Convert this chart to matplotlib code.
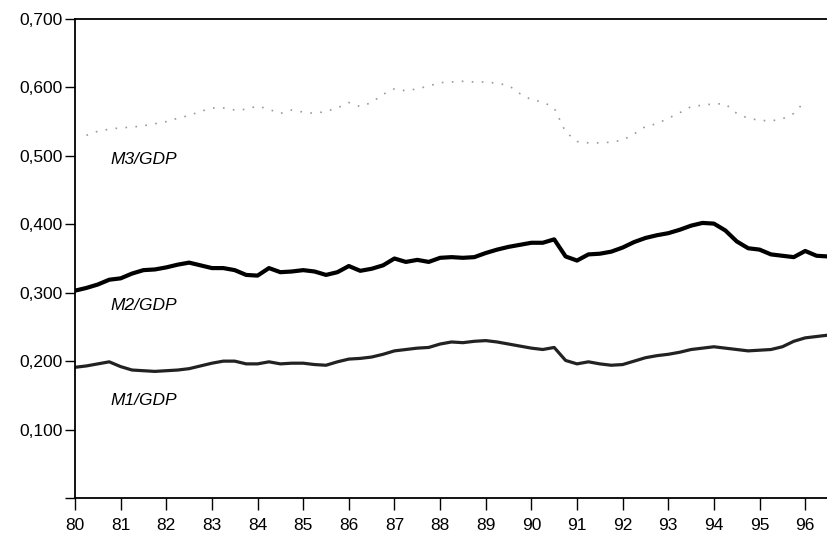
import matplotlib.pyplot as plt
import numpy as np

plt.rcParams['font.family'] = ['Liberation Sans', 'DejaVu Sans']

# quarterly observations, 1980Q1 .. 1996Q3
m2_gdp = [0.303, 0.307, 0.312, 0.319, 0.321, 0.328, 0.333, 0.334, 0.337, 0.341,
          0.344, 0.340, 0.336, 0.336, 0.333, 0.326, 0.325, 0.336, 0.330, 0.331,
          0.333, 0.331, 0.326, 0.330, 0.339, 0.332, 0.335, 0.340, 0.350, 0.345,
          0.348, 0.345, 0.351, 0.352, 0.351, 0.352, 0.358, 0.363, 0.367, 0.370,
          0.373, 0.373, 0.378, 0.353, 0.347, 0.356, 0.357, 0.360, 0.366, 0.374,
          0.380, 0.384, 0.387, 0.392, 0.398, 0.402, 0.401, 0.391, 0.375, 0.365,
          0.363, 0.356, 0.354, 0.352, 0.361, 0.354, 0.353]
m1_gdp = [0.191, 0.193, 0.196, 0.199, 0.192, 0.187, 0.186, 0.185, 0.186, 0.187,
          0.189, 0.193, 0.197, 0.200, 0.200, 0.196, 0.196, 0.199, 0.196, 0.197,
          0.197, 0.195, 0.194, 0.199, 0.203, 0.204, 0.206, 0.210, 0.215, 0.217,
          0.219, 0.220, 0.225, 0.228, 0.227, 0.229, 0.230, 0.228, 0.225, 0.222,
          0.219, 0.217, 0.220, 0.201, 0.196, 0.199, 0.196, 0.194, 0.195, 0.200,
          0.205, 0.208, 0.210, 0.213, 0.217, 0.219, 0.221, 0.219, 0.217, 0.215,
          0.216, 0.217, 0.221, 0.229, 0.234, 0.236, 0.238]
# M3 series starts one quarter later and ends at 1996Q1
m3_gdp = [0.530, 0.536, 0.539, 0.541, 0.542, 0.544, 0.547, 0.550, 0.555, 0.559,
          0.565, 0.570, 0.570, 0.567, 0.568, 0.573, 0.568, 0.562, 0.567, 0.564,
          0.562, 0.565, 0.570, 0.578, 0.572, 0.578, 0.590, 0.598, 0.595, 0.598,
          0.602, 0.607, 0.608, 0.609, 0.608, 0.608, 0.606, 0.603, 0.591, 0.582,
          0.579, 0.570, 0.535, 0.521, 0.519, 0.519, 0.520, 0.523, 0.532, 0.543,
          0.547, 0.555, 0.563, 0.572, 0.574, 0.576, 0.576, 0.562, 0.555, 0.552,
          0.551, 0.554, 0.562, 0.580]

year_ticks = list(range(80, 97))
y_ticks = [0.0, 0.1, 0.2, 0.3, 0.4, 0.5, 0.6, 0.7]
y_labels = ['', '0,100', '0,200', '0,300', '0,400', '0,500', '0,600', '0,700']
series_labels = [('M3/GDP', 0.495), ('M2/GDP', 0.282), ('M1/GDP', 0.142)]

t_main = 80 + 0.25 * np.arange(len(m2_gdp))
t_m3 = 80.25 + 0.25 * np.arange(len(m3_gdp))

fig = plt.figure(figsize=(8.28, 5.39), dpi=100)
ax = fig.add_axes([0.0906, 0.0761, 0.9094, 0.8886])

ax.plot(t_m3, m3_gdp, color='#9a9a9a', lw=1.2, linestyle=(0, (1, 5)))
ax.plot(t_main, m2_gdp, color='black', lw=3.0, solid_joinstyle='round')
ax.plot(t_main, m1_gdp, color='#222222', lw=2.3, solid_joinstyle='round')

for txt, yv in series_labels:
    ax.text(80.77, yv, txt, fontsize=12.5, style='italic', va='center', ha='left')

ax.set_xlim(80, 96.5)
ax.set_ylim(0, 0.7)
ax.set_xticks(year_ticks)
ax.set_xticklabels([str(y) for y in year_ticks], fontsize=12.5)
ax.set_yticks(y_ticks)
ax.set_yticklabels(y_labels, fontsize=12.5)

ax.spines['right'].set_visible(False)
for s in ['left', 'bottom', 'top']:
    ax.spines[s].set_linewidth(1.3)
ax.tick_params(axis='y', length=7, width=1, pad=2)
ax.tick_params(axis='x', length=8.5, width=1, pad=6)

fig.savefig('out.png', dpi=100)
